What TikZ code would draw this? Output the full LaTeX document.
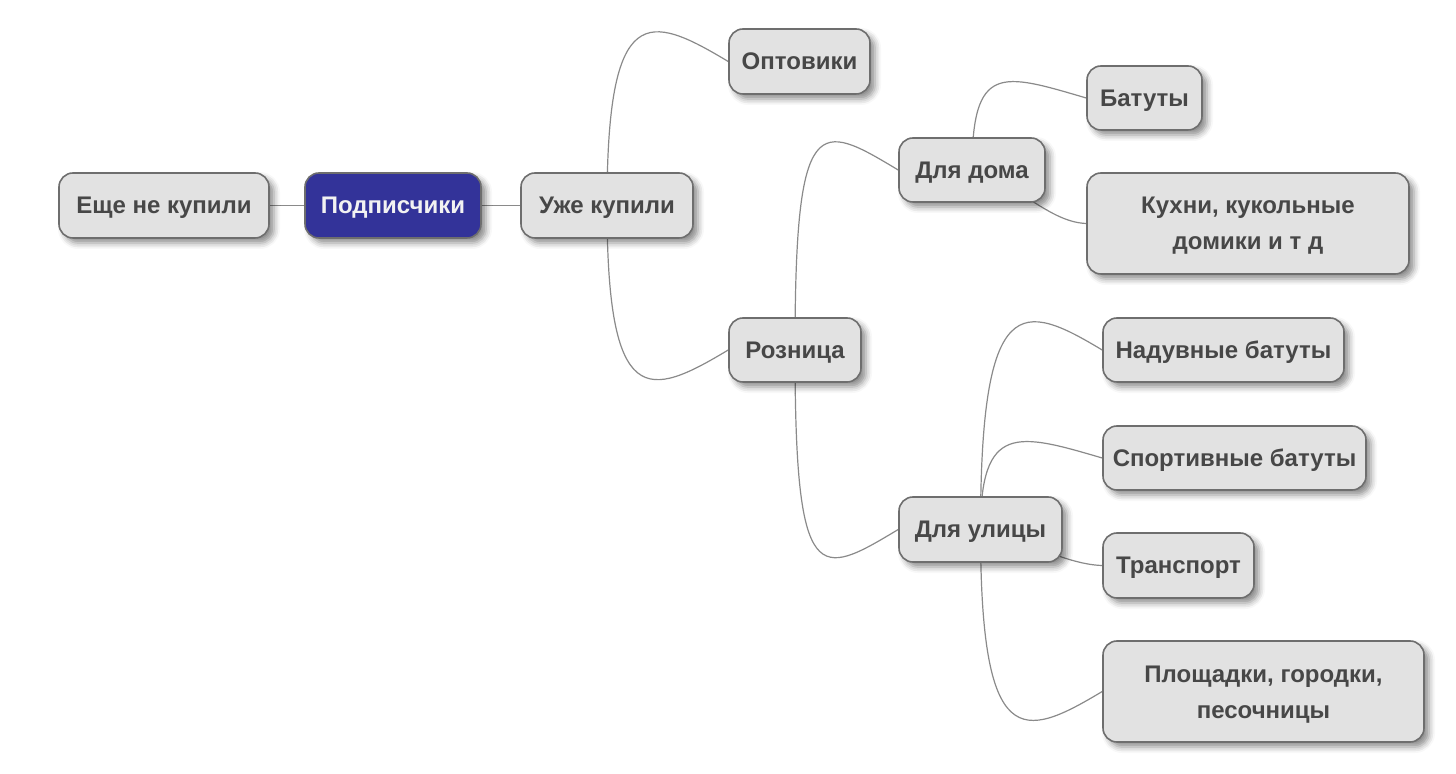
\documentclass[tikz,border=0pt]{standalone}
\usepackage{fontspec}
\setmainfont{Liberation Sans}
\usetikzlibrary{calc,shadows.blur}
\definecolor{boxfill}{HTML}{E2E2E2}
\definecolor{boxline}{HTML}{6E6E6E}
\definecolor{txt}{HTML}{474747}
\definecolor{rootfill}{HTML}{333399}
\definecolor{roottxt}{HTML}{F2F2F2}
\definecolor{linkc}{HTML}{8A8A8A}
\pgfdeclarelayer{background}
\pgfsetlayers{background,main}
\tikzset{
  mmbox/.style={draw=boxline, line width=0.8pt, fill=boxfill, rounded corners=7pt,
    text=txt, font=\fontsize{12}{18}\selectfont\bfseries, align=center, inner sep=0pt,
    text height=8.5pt, text depth=0pt,
    blur shadow={shadow xshift=2.5pt, shadow yshift=-2.5pt, shadow blur radius=3pt, shadow opacity=45}},
  twoline/.style={text height=26.5pt, text depth=0pt},
  mmroot/.style={mmbox, fill=rootfill, text=roottxt},
  link/.style={draw=linkc, line width=0.6pt},
}
\begin{document}
\begin{tikzpicture}[x=0.5pt,y=-0.5pt]
\path[use as bounding box] (0,0) rectangle (1456,774);
\node[mmbox, minimum width=105pt, minimum height=32.5pt] (e) at (164,205.5) {Еще не купили};
\node[mmroot, minimum width=88pt, minimum height=32.5pt] (root) at (393,205.5) {Подписчики};
\node[mmbox, minimum width=86pt, minimum height=32.5pt] (u) at (607,205.5) {Уже купили};
\node[mmbox, minimum width=70.5pt, minimum height=32.5pt] (opt) at (799.5,61.5) {Оптовики};
\node[mmbox, minimum width=66pt, minimum height=32pt] (roz) at (795,350) {Розница};
\node[mmbox, minimum width=73pt, minimum height=32pt] (dom) at (972,170) {Для дома};
\node[mmbox, minimum width=81.5pt, minimum height=32.5pt] (ul) at (980.5,529.5) {Для улицы};
\node[mmbox, minimum width=57.5pt, minimum height=32pt] (bat) at (1144.5,98) {Батуты};
\node[mmbox, twoline, minimum width=161pt, minimum height=50.5pt] (kuh) at (1248,223.5) {Кухни, кукольные\\домики и т д};
\node[mmbox, minimum width=120.5pt, minimum height=32pt] (nad) at (1223.5,350) {Надувные батуты};
\node[mmbox, minimum width=131.5pt, minimum height=32pt] (sport) at (1234.5,458) {Спортивные батуты};
\node[mmbox, minimum width=75.5pt, minimum height=32.5pt] (tr) at (1178.5,565.5) {Транспорт};
\node[mmbox, twoline, minimum width=160.5pt, minimum height=50.5pt] (pl) at (1263.5,691.5) {Площадки, городки,\\песочницы};
\begin{pgfonlayer}{background}
\draw[link] (root.west) -- (e.east);
\draw[link] (root.east) -- (u.west);
\draw[link] (u.center) .. controls ($(u.center |- opt.west)+(0,-61)$) and ($(opt.west)+(-80,-48)$) .. (opt.west);
\draw[link] (u.center) .. controls ($(u.center |- roz.west)+(0,61)$) and ($(roz.west)+(-80,48)$) .. (roz.west);
\draw[link] (roz.center) .. controls ($(roz.center |- dom.west)+(0,-61)$) and ($(dom.west)+(-80,-48)$) .. (dom.west);
\draw[link] (roz.center) .. controls ($(roz.center |- ul.west)+(0,61)$) and ($(ul.west)+(-80,48)$) .. (ul.west);
\draw[link] (dom.center) .. controls ($(dom.center |- bat.west)+(0,-35)$) and ($(bat.west)+(-85,-25)$) .. (bat.west);
\draw[link] (dom.center) .. controls ($(dom.center)+(48,15)$) and ($(kuh.west)+(-37,-1.5)$) .. (kuh.west);
\draw[link] (ul.center) .. controls ($(ul.center |- nad.west)+(0,-61)$) and ($(nad.west)+(-80,-48)$) .. (nad.west);
\draw[link] (ul.center) .. controls ($(ul.center |- sport.west)+(0,-35)$) and ($(sport.west)+(-85,-25)$) .. (sport.west);
\draw[link] (ul.center) .. controls ($(ul.center)+(48,12)$) and ($(tr.west)+(-35,-1)$) .. (tr.west);
\draw[link] (ul.center) .. controls ($(ul.center |- pl.west)+(0,61)$) and ($(pl.west)+(-80,48)$) .. (pl.west);
\end{pgfonlayer}
\end{tikzpicture}
\end{document}
